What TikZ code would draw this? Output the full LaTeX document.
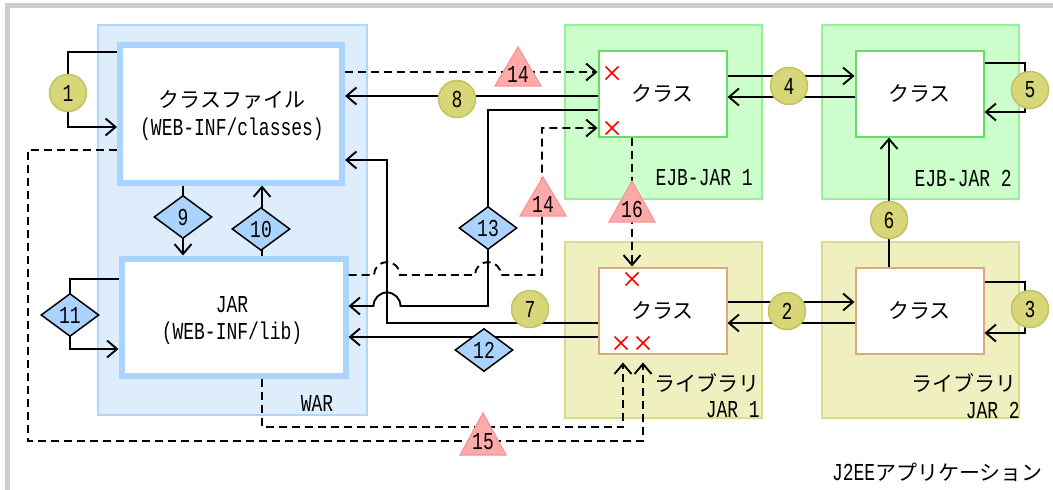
\documentclass[tikz,border=0pt]{standalone}
\usepackage{graphicx}
\usepackage{fontspec}
\setmainfont{Noto Sans CJK JP}
\newfontfamily\latfont{Liberation Mono}
\usetikzlibrary{arrows.meta,shapes.geometric}
\definecolor{framegray}{HTML}{CCCCCC}
\definecolor{warfill}{HTML}{DDEDFC}
\definecolor{warline}{HTML}{B3D7FA}
\definecolor{boxblue}{HTML}{AAD4FF}
\definecolor{ejbfill}{HTML}{CCFFCC}
\definecolor{ejbline}{HTML}{99EE99}
\definecolor{ejbbox}{HTML}{66DD66}
\definecolor{libfill}{HTML}{EFEFBF}
\definecolor{libline}{HTML}{DBDB8C}
\definecolor{libbox}{HTML}{DDA780}
\definecolor{circfill}{HTML}{D7D77A}
\definecolor{circline}{HTML}{C2C25E}
\definecolor{trifill}{HTML}{FFAAAA}
\definecolor{triline}{HTML}{F59595}
\definecolor{crossred}{HTML}{FF0000}
\pgfdeclarelayer{bg}\pgfdeclarelayer{fg}\pgfsetlayers{bg,main,fg}
\newcommand\lt[1]{{\latfont\fontsize{18}{20}\selectfont\scalebox{1}[1.35]{#1}}}
\newcommand\jp{\fontsize{21}{24}\selectfont}
\begin{document}
\begin{tikzpicture}[x=1pt,y=-1pt,
  cont/.style={rectangle, line width=1.5pt, minimum width=197pt, inner sep=0pt},
  bigbox/.style={rectangle, draw=boxblue, fill=white, line width=6pt, inner sep=0pt},
  clsbox/.style={rectangle, fill=white, line width=2pt, inner sep=0pt, minimum width=128pt, minimum height=86pt, font=\jp},
  conn/.style={draw, line width=1.9pt},
  arr/.style={conn, -{Straight Barb[length=10pt,width=17pt]}},
  dsh/.style={dash pattern=on 8pt off 5pt},
  circ/.style={circle, fill=circfill, draw=circline, line width=1.5pt, minimum size=37pt, inner sep=0pt},
  dia/.style={diamond, fill=boxblue, draw=black, line width=1.5pt, minimum width=58pt, minimum height=43pt, inner sep=0pt},
  tri/.style={fill=trifill, draw=triline, line width=1.2pt},
  crs/.style={draw=crossred, line width=1.6pt},
  lbl/.style={inner sep=0pt}
]
\useasboundingbox (0,0) rectangle (1053,490);
\begin{pgfonlayer}{bg}
\fill[white] (0,0) rectangle (1053,490);
\draw[line width=5pt, framegray] (7,490) -- (7,5.5) -- (1053,5.5);
\node[cont, fill=warfill, draw=warline, minimum width=269pt, minimum height=390pt] (war) at (232.5,220) {};
\node[cont, fill=ejbfill, draw=ejbline, minimum height=174pt] (ejbjar1) at (663.5,112) {};
\node[cont, fill=ejbfill, draw=ejbline, minimum height=174pt] (ejbjar2) at (920.5,112) {};
\node[cont, fill=libfill, draw=libline, minimum height=176pt] (libjar1) at (663.5,330) {};
\node[cont, fill=libfill, draw=libline, minimum height=176pt] (libjar2) at (920.5,330) {};
\node[lbl] (warlbl) at (317,403) {\lt{WAR}};
\node[lbl, anchor=east] (ejb1lbl) at (753,178) {\lt{EJB-JAR 1}};
\node[lbl, anchor=east] (ejb2lbl) at (1012,178) {\lt{EJB-JAR 2}};
\node[lbl, anchor=east, font=\jp] (lib1lblA) at (760,383) {ライブラリ};
\node[lbl, anchor=east] (lib1lblB) at (760,410) {\lt{JAR 1}};
\node[lbl, anchor=east, font=\jp] (lib2lblA) at (1017,383) {ライブラリ};
\node[lbl, anchor=east] (lib2lblB) at (1020,410) {\lt{JAR 2}};
\node[lbl, anchor=east, font=\jp] (j2ee) at (1043,472) {\lt{J2EE}アプリケーション};
\end{pgfonlayer}
% boxes
\node[bigbox, minimum width=222pt, minimum height=138pt] (cf) at (231,113.5) {};
\node[lbl, font=\jp] (cft1) at (232,100) {クラスファイル};
\node[lbl] (cft2) at (232,129) {\lt{(WEB-INF/classes)}};
\node[bigbox, minimum width=224pt, minimum height=117pt] (jar) at (233.5,317) {};
\node[lbl] (jart1) at (232,305) {\lt{JAR}};
\node[lbl] (jart2) at (232,333) {\lt{(WEB-INF/lib)}};
\node[clsbox, draw=ejbbox] (ejb1) at (662.5,93.5) {クラス};
\node[clsbox, draw=ejbbox] (ejb2) at (919.5,93.5) {クラス};
\node[clsbox, draw=libbox] (lib1) at (662.5,310.5) {クラス};
\node[clsbox, draw=libbox] (lib2) at (919.5,310.5) {クラス};
% connectors
\draw[arr] (cf.west |- 0,52) -- (68,52) -- (68,127) -- (cf.west |- 0,127);
\draw[arr] (jar.west |- 0,279) -- (70,279) -- (70,349) -- (jar.west |- 0,349);
\draw[arr] (183,0 |- cf.south) -- (183,0 |- jar.north);
\draw[arr] (262,0 |- jar.north) -- (262,0 |- cf.south);
\draw[arr] (ejb1.west |- 0,96) -- (cf.east |- 0,96);
\draw[arr] (lib1.west |- 0,323) -- (387,323) -- (387,160) -- (cf.east |- 0,160);
\draw[arr] (ejb1.west |- 0,110) -- (488,110) -- (488,306) -- (400.5,306)
   arc[start angle=0, end angle=-180, radius=13.5] -- (jar.east |- 0,306);
\draw[arr] (lib1.west |- 0,337) -- (jar.east |- 0,337);
\draw[arr, dsh] (cf.east |- 0,72) -- (ejb1.west |- 0,72);
\draw[arr, dsh] (jar.east |- 0,275) -- (374,275) arc[start angle=180, end angle=360, radius=13]
   -- (475,275) arc[start angle=180, end angle=360, radius=13] -- (542,275) -- (542,128) -- (ejb1.west |- 0,128);
\draw[arr, dsh] (632,0 |- ejb1.south) -- (632,0 |- lib1.north);
\draw[arr, dsh, shorten >=8pt] (cf.west |- 0,150) -- (28,150) -- (28,441) -- (643,441) -- (643,0 |- lib1.south);
\draw[arr, dsh, shorten >=8pt] (262,0 |- jar.south) -- (262,427) -- (623,427) -- (623,0 |- lib1.south);
\draw[arr] (ejb1.east |- 0,76) -- (ejb2.west |- 0,76);
\draw[arr] (ejb2.west |- 0,97) -- (ejb1.east |- 0,97);
\draw[arr] (lib1.east |- 0,302) -- (lib2.west |- 0,302);
\draw[arr] (lib2.west |- 0,323) -- (lib1.east |- 0,323);
\draw[arr] (ejb2.east |- 0,63) -- (1025,63) -- (1025,112) -- (ejb2.east |- 0,112);
\draw[arr] (lib2.east |- 0,282) -- (1025,282) -- (1025,333) -- (lib2.east |- 0,333);
\draw[arr] (889,0 |- lib2.north) -- (889,0 |- ejb2.south);
% markers
\begin{pgfonlayer}{fg}
\node[circ] (c1) at (68,93) {\lt{1}};
\node[circ] (c2) at (787,311) {\lt{2}};
\node[circ] (c3) at (1030,309) {\lt{3}};
\node[circ] (c4) at (789,86) {\lt{4}};
\node[circ] (c5) at (1030,90) {\lt{5}};
\node[circ] (c6) at (889,220) {\lt{6}};
\node[circ] (c7) at (530,309) {\lt{7}};
\node[circ] (c8) at (457,99) {\lt{8}};
\node[dia] (d9) at (183,217) {\lt{9}};
\node[dia] (d10) at (261,229) {\lt{10}};
\node[dia] (d11) at (70,315) {\lt{11}};
\node[dia] (d12) at (484,350) {\lt{12}};
\node[dia] (d13) at (488,228) {\lt{13}};
\path[tri] (495,86) -- (518,47) -- (541,86) -- cycle;
\node[lbl] (t14a) at (518,74) {\lt{14}};
\path[tri] (520,216) -- (543,177) -- (566,216) -- cycle;
\node[lbl] (t14b) at (543,204) {\lt{14}};
\path[tri] (609,222) -- (632,181) -- (655,222) -- cycle;
\node[lbl] (t16) at (632,209) {\lt{16}};
\path[tri] (460,455) -- (483,413) -- (506,455) -- cycle;
\node[lbl] (t15) at (483,442) {\lt{15}};
\foreach \px/\py in {612/73, 612/128, 632/279, 621/343, 643/343}{
  \draw[crs] (\px-6.5,\py-6.5) -- (\px+6.5,\py+6.5) (\px-6.5,\py+6.5) -- (\px+6.5,\py-6.5);
}
\end{pgfonlayer}
\end{tikzpicture}
\end{document}
